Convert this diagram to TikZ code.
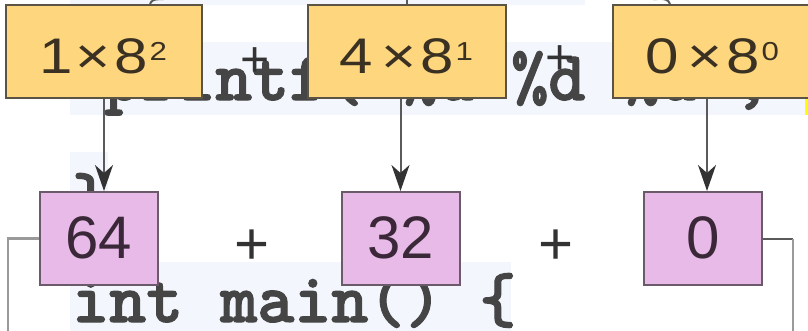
\documentclass[tikz,border=0pt]{standalone}
\usepackage{fontspec}
\setmainfont{Liberation Sans}
\newfontfamily\widefont{Liberation Sans}[FakeStretch=1.2]
\newfontfamily\codefont{lmmonolt10-bold}[Extension=.otf, FakeBold=1.6]
\usetikzlibrary{arrows.meta}
\definecolor{stripe}{HTML}{F3F7FD}
\definecolor{hl}{HTML}{FFFF00}
\definecolor{codetext}{HTML}{454545}
\definecolor{yfill}{HTML}{FDD67E}
\definecolor{ybord}{HTML}{5B5343}
\definecolor{ytext}{HTML}{3A3122}
\definecolor{pfill}{HTML}{E8BAE8}
\definecolor{pbord}{HTML}{6A5A6A}
\definecolor{ptext}{HTML}{3A2838}
\definecolor{linegray}{HTML}{5A5A5A}
\definecolor{tipdark}{HTML}{333333}
\definecolor{sidegray}{HTML}{9A9A9A}
\definecolor{plusdark}{HTML}{333333}
\newcommand\supnum[1]{\kern2pt\raisebox{13pt}{\fontsize{26}{26}\selectfont #1}}
\begin{document}
\begin{tikzpicture}[x=1pt,y=-1pt,
  codeline/.style={inner sep=0pt, anchor=base west, text=codetext, font=\codefont\fontsize{70.5}{70.5}\selectfont},
  ybox/.style={draw=ybord, fill=yfill, line width=2pt, minimum height=93pt, inner sep=0pt,
    text=ytext, font=\widefont\fontsize{50}{50}\selectfont, text height=43pt, text depth=0pt},
  pbox/.style={draw=pbord, fill=pfill, line width=2pt, minimum width=118pt, minimum height=93pt, inner sep=0pt,
    text=ptext, font=\fontsize{60}{60}\selectfont, text height=39pt, text depth=0pt},
  plussmall/.style={inner sep=0pt, text=plusdark, font=\fontsize{50}{50}\selectfont},
  plusbig/.style={inner sep=0pt, text=plusdark, font=\fontsize{60}{60}\selectfont},
  arr/.style={draw=linegray, line width=2pt, -{Stealth[length=26pt,width=18pt,inset=8pt,color=tipdark]}},
  conn/.style={draw=linegray, line width=2pt},
  sidelight/.style={draw=sidegray, line width=2.5pt},
  sidedark/.style={draw=linegray, line width=2pt}
]
\useasboundingbox (0,0) rectangle (808,330);
\clip (0,0) rectangle (808,330);
\fill[white] (0,0) rectangle (808,330);
% code background stripes
\fill[stripe] (70,-70) rectangle (585,5);
\fill[stripe] (70,42) rectangle (805,115);
\fill[hl] (805,42) rectangle (812,115);
\fill[stripe] (70,152) rectangle (108,225);
\fill[stripe] (70,262) rectangle (511,340);
% code text
\node[codeline] (c1) at (104,100) {printf("\%d \%d \%d", a, b, c);};
\node[codeline] (c2) at (72,222) {\}};
\node[codeline] (c3) at (72,322) {int main() \{};
% top row
\node[ybox, minimum width=196pt] (y1) at (103.5,51.5) {1\kern2pt×\kern4pt8\supnum{2}};
\node[ybox, minimum width=198pt] (y2) at (406.5,51.5) {4\kern8pt×\kern4pt8\supnum{1}};
\node[ybox, minimum width=199pt] (y3) at (712.5,51.5) {0\kern8pt×\kern4pt8\supnum{0}};
\node[plussmall] (a1) at (255,62) {+};
\node[plussmall] (a2) at (560,60) {+};
% bottom row
\node[pbox] (p1) at (99,238.5) {64};
\node[pbox] (p2) at (400.5,238.5) {32};
\node[pbox] (p3) at (703,238.5) {0};
\node[plusbig] (b1) at (252,247.5) {+};
\node[plusbig] (b2) at (556,247) {+};
% arrows
\draw[arr] ([xshift=0.5pt]y1.south) -- ([xshift=0.5pt]y1.south |- p1.north);
\draw[arr] (p2.north |- y2.south) -- (p2.north);
\draw[arr] ([xshift=-5.5pt]y3.south) -- ([xshift=-5.5pt]y3.south |- p3.north);
% incoming connectors at the top edge
\coordinate (t1) at (169,-2);
\coordinate (t2) at (406.5,-2);
\coordinate (t3) at (647,-2);
\draw[conn] (t1) to[out=200,in=70] ([xshift=46.5pt]y1.north);
\draw[conn] (t2) -- (y2.north);
\draw[conn] (t3) to[out=-20,in=110] ([xshift=-42.5pt]y3.north);
% side connectors
\coordinate (lb) at (8,335);
\coordinate (rb) at (793,335);
\draw[sidelight] (p1.west) -| (lb);
\draw[sidedark] (p3.east) -- (p3.east -| rb);
\draw[sidelight] (p3.east -| rb) -- (rb);
\end{tikzpicture}
\end{document}
